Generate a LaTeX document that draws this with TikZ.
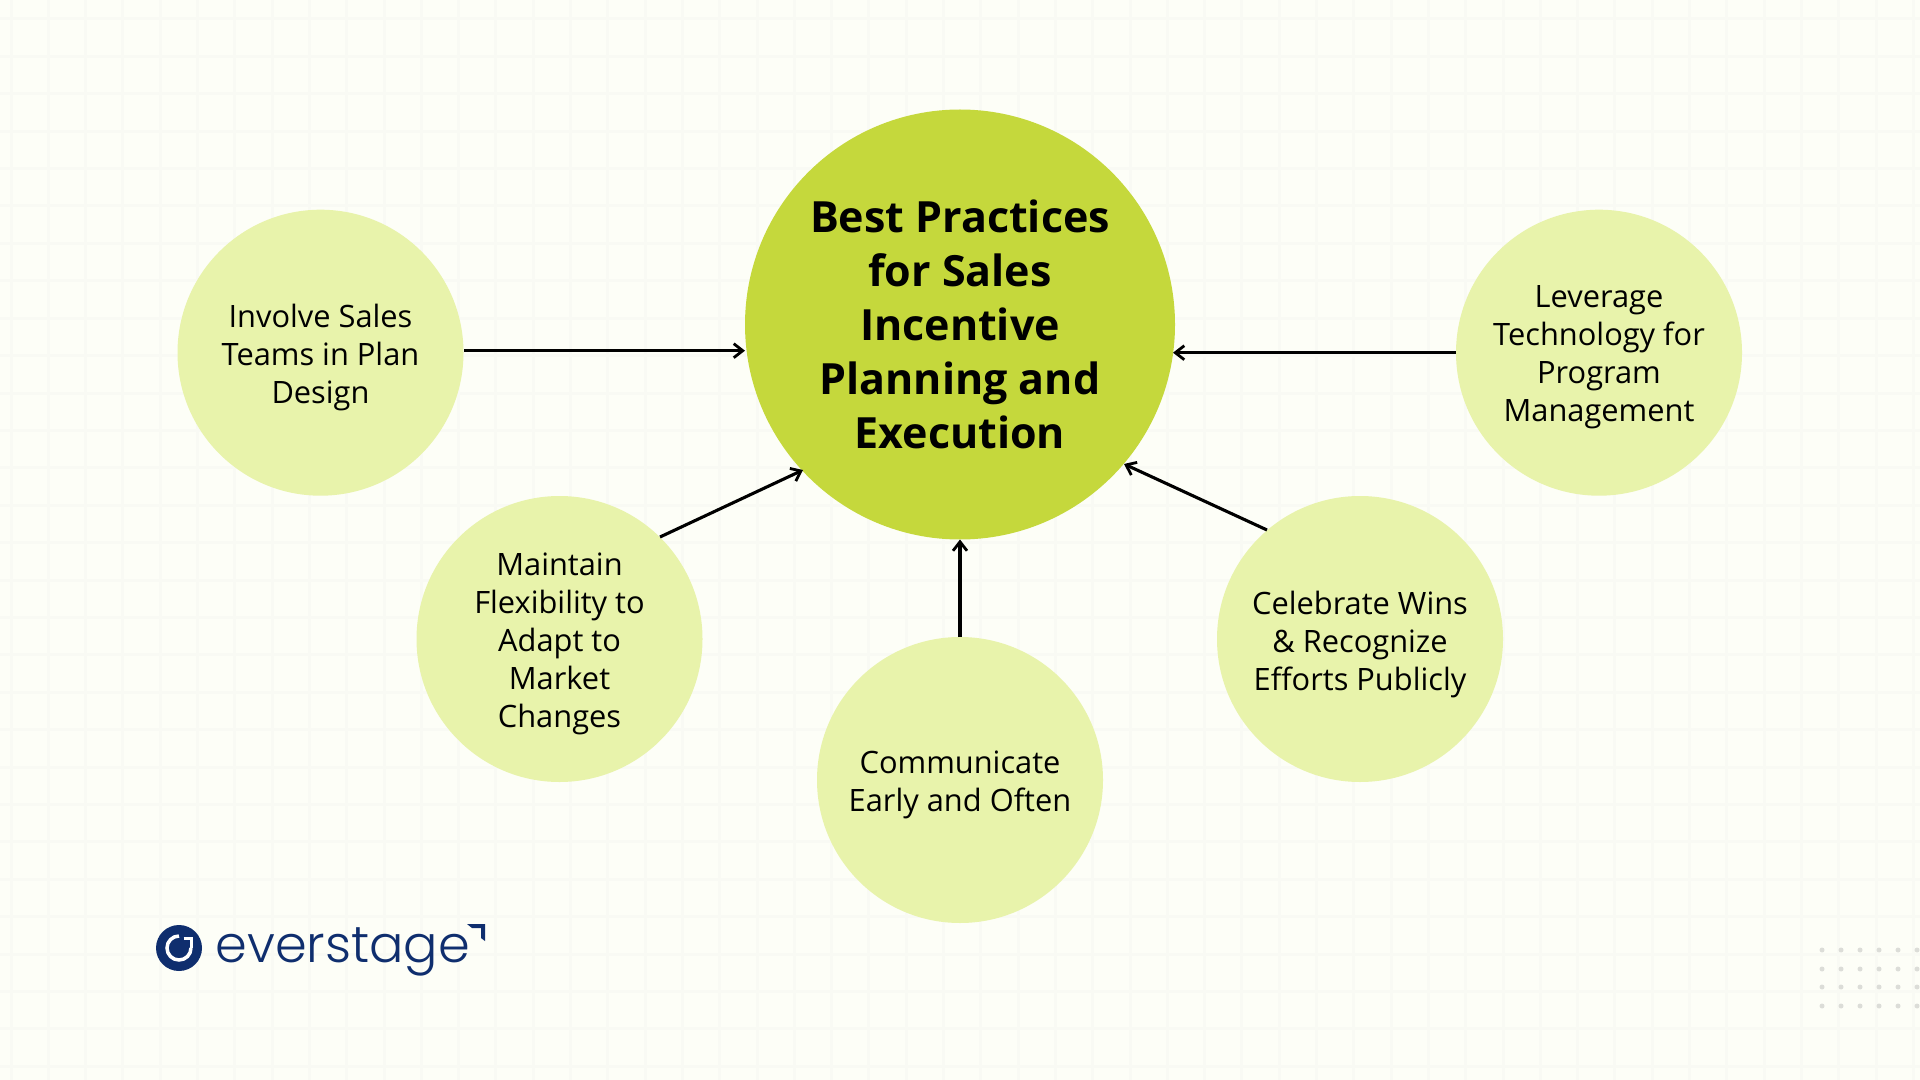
\documentclass[tikz,border=0pt]{standalone}
\usepackage{fontspec}
\setmainfont{Open Sans}
\newfontfamily\logofont{Poppins Light}
\usetikzlibrary{arrows.meta}
\definecolor{bgc}{HTML}{FDFEF7}
\definecolor{gridc}{HTML}{F9FAF4}
\definecolor{maing}{HTML}{C5D83C}
\definecolor{lightg}{HTML}{E8F3AB}
\definecolor{navy}{HTML}{0F2E6E}
\definecolor{dotc}{HTML}{DCDDD8}
\tikzset{
  x=0.5pt,y=-0.5pt,
  hub/.style={circle,fill=maing,inner sep=0pt,outer sep=0pt,minimum size=215pt,align=center,font=\fontsize{21.5}{27}\selectfont\bfseries},
  spoke/.style={circle,fill=lightg,inner sep=0pt,outer sep=0pt,minimum size=143pt},
  spoketext/.style={align=center,inner sep=0pt,yshift=-2.5pt,font=\fontsize{15.4}{19}\selectfont},
  link/.style={draw=black,line width=1.55pt,-{Straight Barb[length=4.5pt,width=7pt,line width=1.4pt]}},
  gridline/.style={draw=gridc,line width=1.5pt},
}
\begin{document}
\begin{tikzpicture}
\useasboundingbox (0,0) rectangle (1920,1080);
\fill[bgc] (0,0) rectangle (1920,1080);
\foreach \i in {0,...,51} {\draw[gridline] ({11+37.3*\i},0) -- ({11+37.3*\i},1080);}
\foreach \i in {0,...,28} {\draw[gridline] (0,{19+37.4*\i}) -- (1920,{19+37.4*\i});}
\foreach \x in {1822,1841,1860,1879,1898,1917} \foreach \y in {950,969,987,1006} {\fill[dotc] (\x,\y) circle (1.25pt);}
\node[hub] (main) at (960,324.5) {Best Practices\\for Sales\\Incentive\\Planning and\\Execution};
\node[spoke] (a) at (320.5,352.7) {};
\node[spoketext] (at) at (a.center) {Involve Sales\\Teams in Plan\\Design};
\node[spoke] (b) at (559.5,639) {};
\node[spoketext] (bt) at (b.center) {Maintain\\Flexibility to\\Adapt to\\Market\\Changes};
\node[spoke] (c) at (960,780) {};
\node[spoketext] (ct) at (c.center) {Communicate\\Early and Often};
\node[spoke] (d) at (1360,639) {};
\node[spoketext] (dt) at (d.center) {Celebrate Wins\\\& Recognize\\Efforts Publicly};
\node[spoke] (e) at (1599,352.7) {};
\node[spoketext] (et) at (e.center) {Leverage\\Technology for\\Program\\Management};
\coordinate (aout) at (464,350.7);
\coordinate (bout) at (660,537);
\coordinate (dout) at (1267,530);
\coordinate (hubl) at (745,350.7);
\coordinate (hubll) at (803,470);
\coordinate (hublr) at (1124,464);
\coordinate (hubr) at (1173,352.7);
\draw[link] (aout) -- (hubl);
\draw[link] (bout) -- (hubll);
\draw[link] (c.north) -- (main.south);
\draw[link] (dout) -- (hublr);
\draw[link] (e.west) -- (hubr);
% logo
\node[circle,fill=navy,inner sep=0pt,outer sep=0pt,minimum size=23pt] (logoc) at (179,948) {};
\draw[white,line width=1.75pt] (logoc.center) ++(90:6pt) arc[start angle=90,end angle=360,radius=6pt];
\draw[white,line width=1.2pt] (183.5,938.5) -- (191.5,938.5) -- (191.5,948);
\node[anchor=base west,inner sep=0pt,text=navy,font=\logofont\fontsize{25.5}{25.5}\selectfont] (logot) at (215,962) {everstage};
\coordinate (m1) at (467,924);
\coordinate (m2) at (485,924);
\coordinate (m3) at (485,941);
\fill[navy] (m1) -- (m2) -- (m3) -- (481,938) -- (481,928) -- (472,928) -- cycle;
\end{tikzpicture}
\end{document}
